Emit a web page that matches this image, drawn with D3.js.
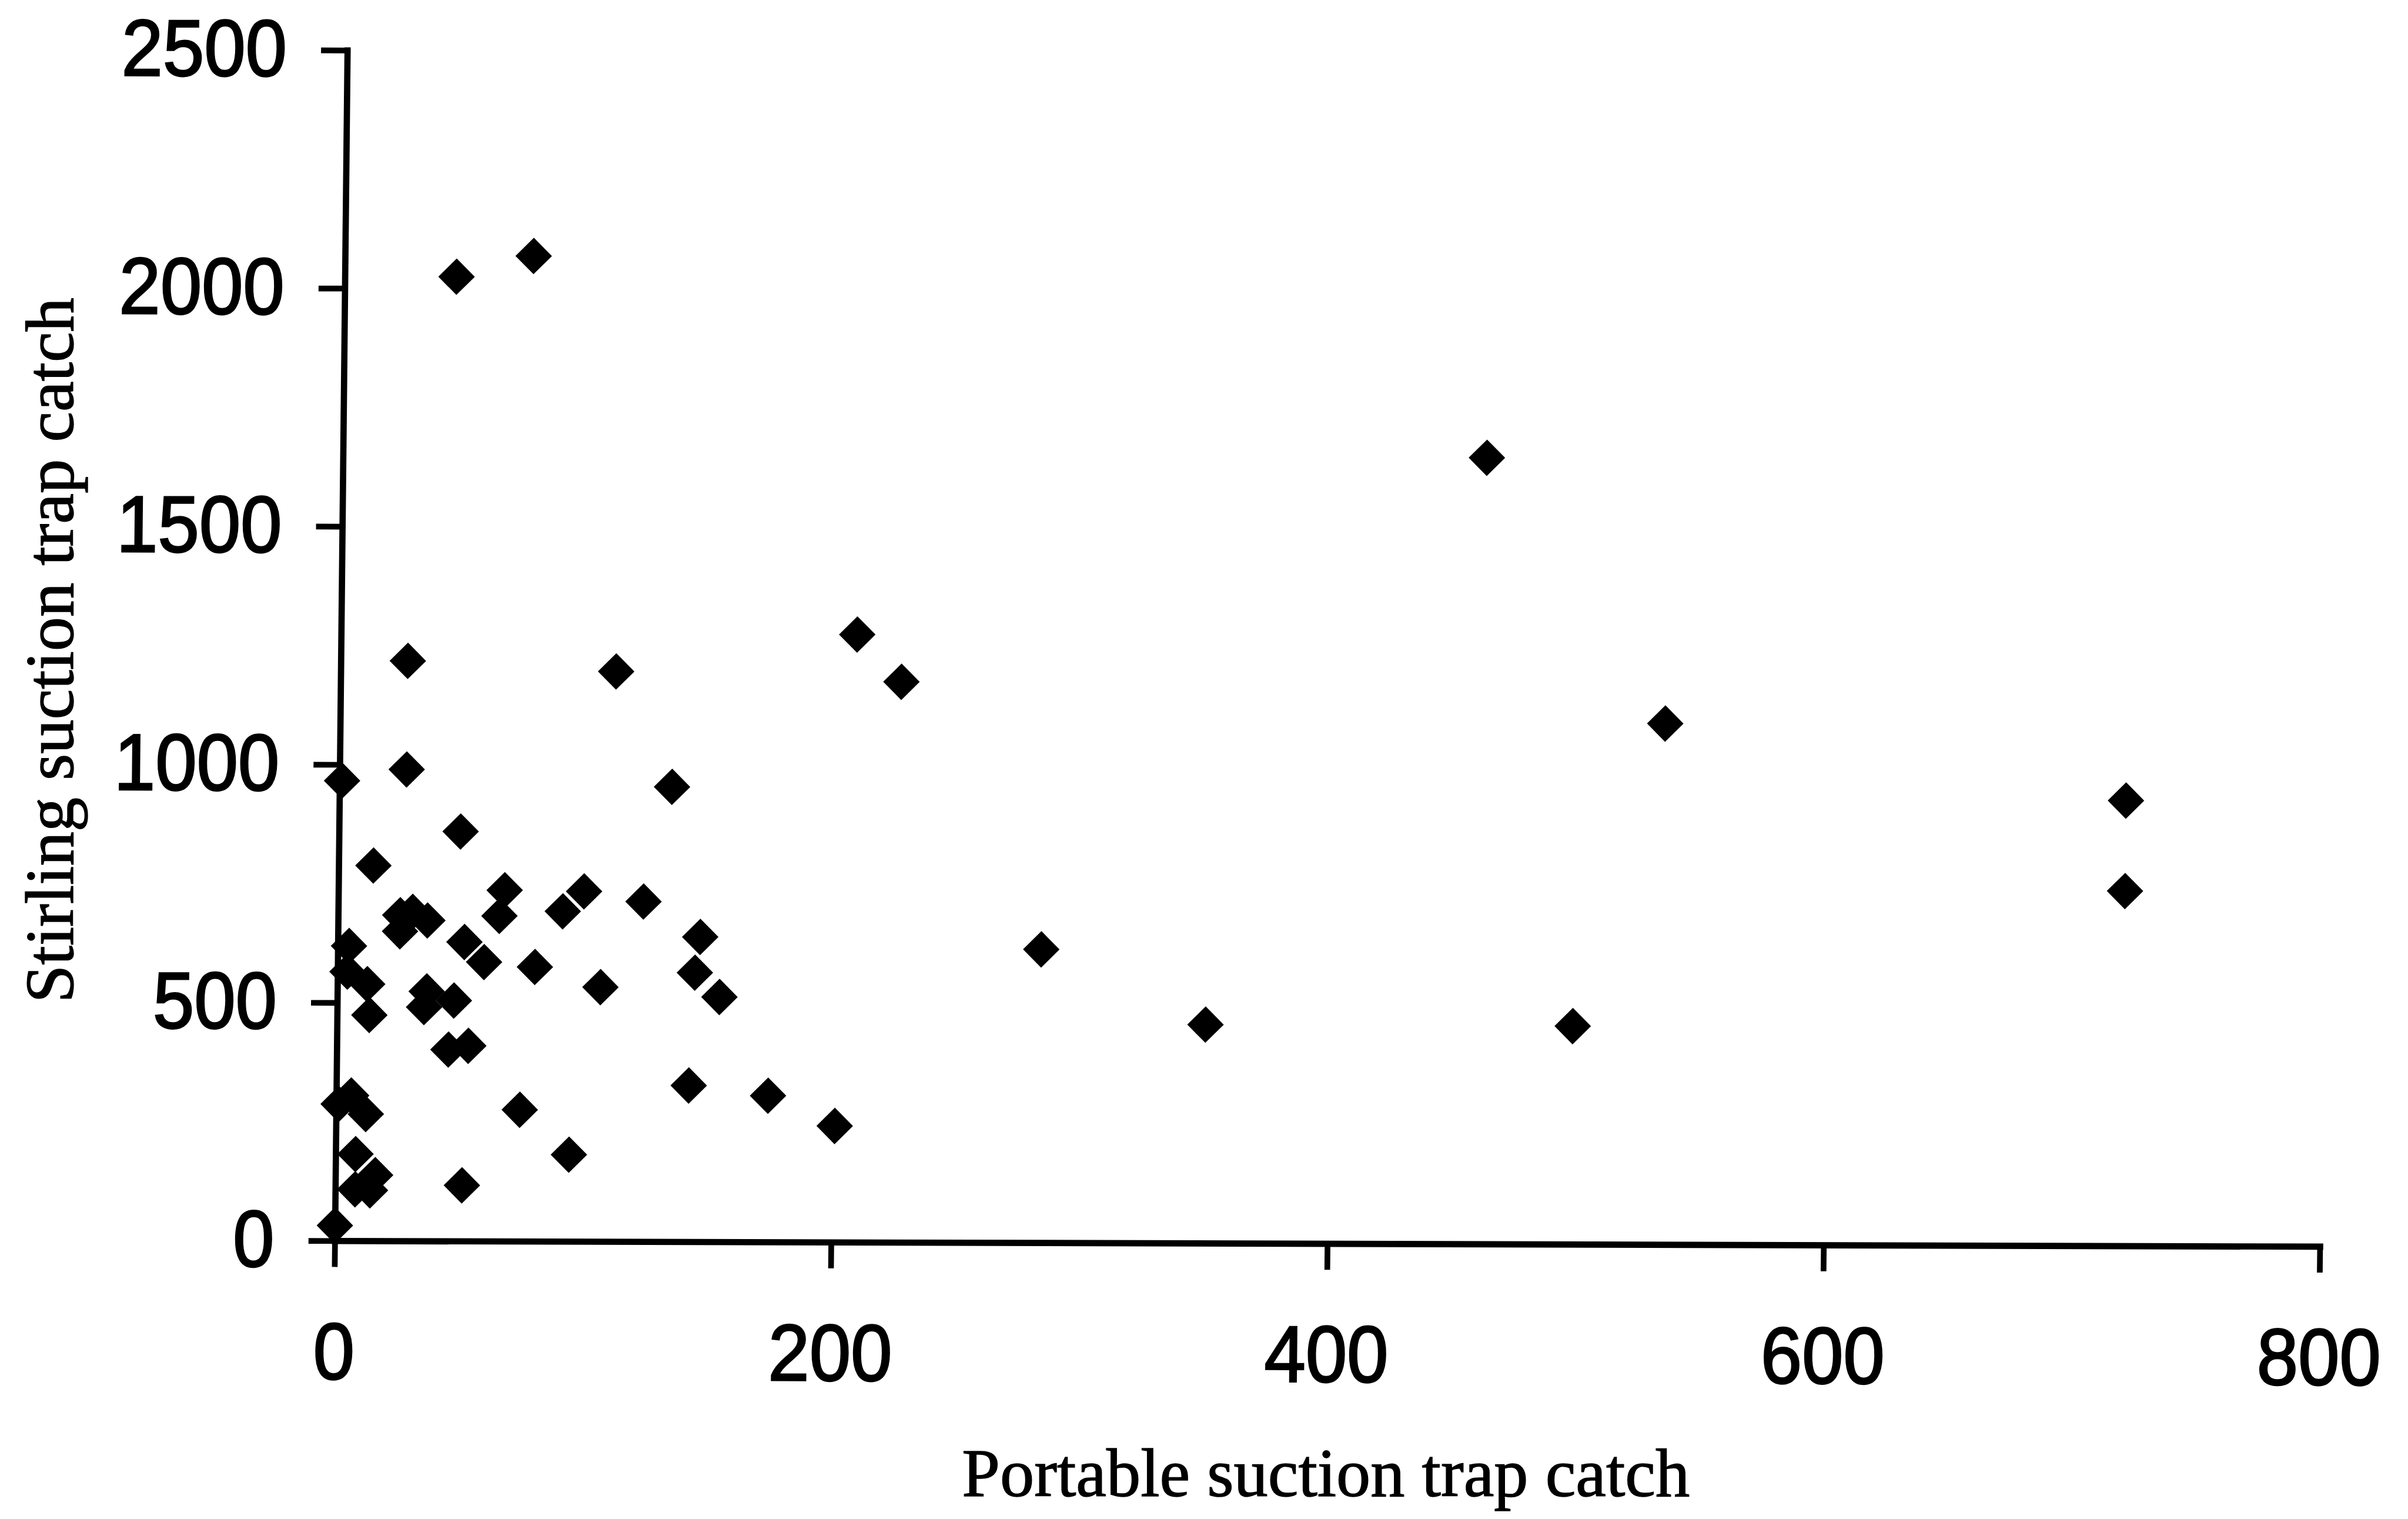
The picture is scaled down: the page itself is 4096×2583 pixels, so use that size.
<!DOCTYPE html>
<html><head><meta charset="utf-8">
<script src="https://cdn.jsdelivr.net/npm/d3@7"></script>
<style>
html,body{margin:0;padding:0;background:#fff;overflow:hidden;}
.xax .tick text{transform-box:fill-box;transform-origin:center center;transform:scaleX(0.93);}
.yax .tick text{transform-box:fill-box;transform-origin:right center;transform:scaleX(0.93);}
</style></head><body>
<svg id="chart" width="4096" height="2583"></svg>
<script>
const xTicks = [0, 200, 400, 600, 800];
const yTicks = [0, 500, 1000, 1500, 2000, 2500];
const portable = [45, 76, 461, 208, 226, 534, 27, 111, 1, 27,
  134, 720, 720, 49, 14, 67, 65, 25, 25, 30,
  36, 51, 59, 79.5, 4.5, 4, 12, 13, 36, 35,
  47, 99, 90.5, 123, 146, 144, 154, 106, 45, 53,
  74, 51, 1, 6, 12, 8, 16, 8, 14, 0,
  94, 142, 174, 283.5, 350, 498, 201];
const stirling = [2025, 2069, 1651, 1276, 1177, 1094, 1218, 1197, 966, 990,
  955, 935, 745, 860, 788, 737, 683, 684, 650, 691,
  673, 628, 586, 576, 619, 565, 539, 474, 524, 491,
  505, 735, 693, 714, 640, 565, 514, 534, 402, 410,
  276, 117, 287, 305, 266, 182, 138, 108, 106, 32,
  182, 328, 307, 616, 459, 458, 244];
const xTitle = "Portable suction trap catch";
const yTitle = "Stirling suction trap catch";

const S = 0.97;
const svg = d3.select("#chart");
svg.append("rect").attr("width", 4096).attr("height", 2583).attr("fill", "#fff");
const root = svg.append("g").attr("transform", `scale(${S})`);
// the scanned original is very slightly sheared; reproduce that geometry
const shx = 0.01054, shy = 0.00287, ox = 587, oy = 2175;
const g = root.append("g")
  .attr("transform", `matrix(1,${shy},${-shx},1,${shx * oy},${-shy * ox})`);

const x = d3.scaleLinear().domain([0, 800]).range([587, 4068]);
const y = d3.scaleLinear().domain([0, 2500]).range([2175, 88]);

const xAxis = g.append("g").attr("class", "xax")
  .attr("transform", `translate(0,${y(0)})`)
  .call(d3.axisBottom(x).tickValues(xTicks).tickFormat(d3.format("d"))
    .tickSize(46).tickSizeOuter(0).tickPadding(97));
const yAxis = g.append("g").attr("class", "yax")
  .attr("transform", `translate(${x(0)},0)`)
  .call(d3.axisLeft(y).tickValues(yTicks).tickFormat(d3.format("d"))
    .tickSize(46).tickSizeOuter(0).tickPadding(60));

[xAxis, yAxis].forEach(a => {
  a.select(".domain").attr("stroke", "#000").attr("stroke-width", 11).attr("stroke-linecap", "square");
  a.selectAll(".tick line").attr("stroke", "#000").attr("stroke-width", 10);
  a.selectAll(".tick text").attr("fill", "#000")
    .attr("stroke", "#000").attr("stroke-width", 3)
    .attr("font-family", "'Liberation Sans', Arial, sans-serif")
    .attr("font-size", 140);
});

root.append("text")
  .attr("x", 2325).attr("y", 2623)
  .attr("text-anchor", "middle")
  .attr("font-family", "'Liberation Serif', 'Times New Roman', serif")
  .attr("font-size", 120).attr("fill", "#000")
  .attr("stroke", "#000").attr("stroke-width", 1.5)
  .text(xTitle);

root.append("text")
  .attr("transform", "translate(128,1140) rotate(-90)")
  .attr("text-anchor", "middle")
  .attr("font-family", "'Liberation Serif', 'Times New Roman', serif")
  .attr("font-size", 120).attr("fill", "#000")
  .attr("stroke", "#000").attr("stroke-width", 1.5)
  .text(yTitle);

const marker = d3.symbol(d3.symbolSquare, 2048);
g.append("g").selectAll("path")
  .data(d3.range(portable.length))
  .join("path")
  .attr("transform", i => `translate(${x(portable[i])},${y(stirling[i])}) rotate(45)`)
  .attr("d", marker)
  .attr("fill", "#000");
</script>
</body></html>
